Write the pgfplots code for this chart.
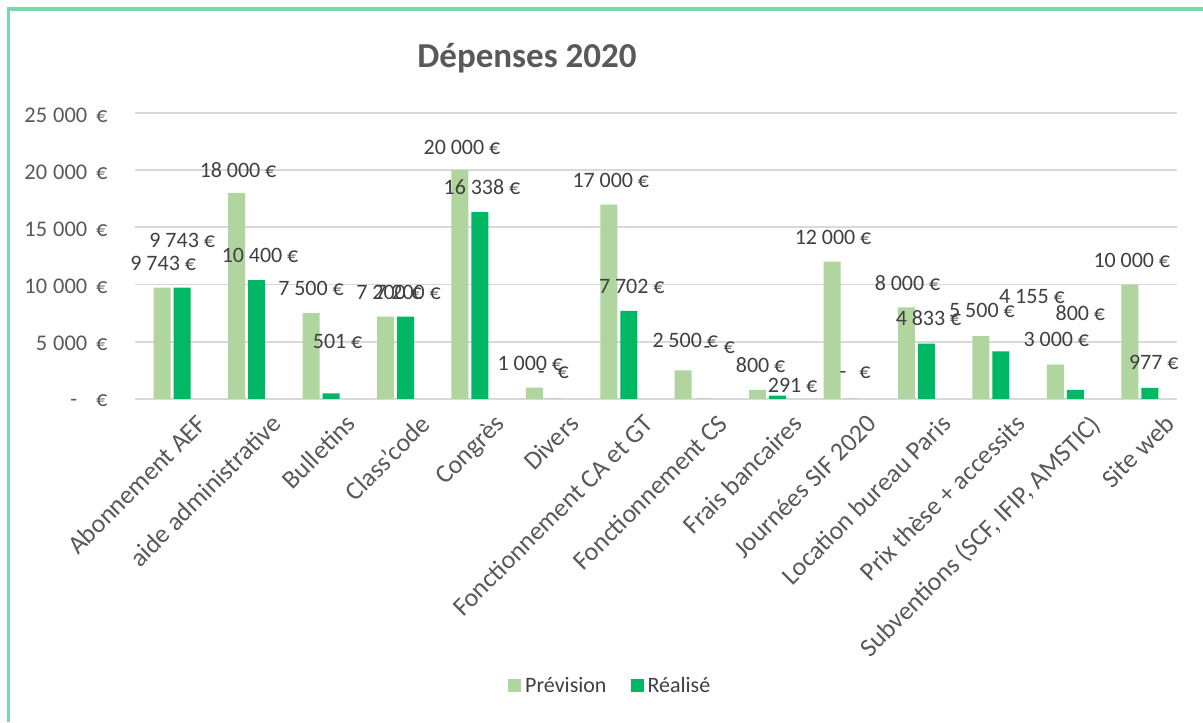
\documentclass[border=0pt]{standalone}
\usepackage{pgfplots}
\pgfplotsset{compat=1.18}
\usepackage{pgfplotstable}
\usepackage{fontspec}
\setmainfont{Carlito}
\definecolor{prev}{HTML}{B1D59F}
\definecolor{real}{HTML}{00B764}
\definecolor{bord}{HTML}{7AD7B0}
\definecolor{txt}{HTML}{404040}
\definecolor{tickc}{HTML}{595959}
\definecolor{gridc}{HTML}{D9D9D9}

\pgfplotstableread{
x P R pdx pdy rdx rdy plab rlab
0 9743 9743 0.5 12.25 0 23.75 9\kern.22em743\kern.22em€ 9\kern.22em743\kern.22em€
1 18000 10400 0.7 11.5 1.7 12.5 18\kern.22em000\kern.22em€ 10\kern.22em400\kern.22em€
2 7500 501 0 12.5 3.25 26 7\kern.22em500\kern.22em€ 501\kern.22em€
3 7200 7200 1.8 12.3 1.3 12.3 7\kern.22em200\kern.22em€ 7\kern.22em200\kern.22em€
4 20000 16338 1 11.5 1 12.5 20\kern.22em000\kern.22em€ 16\kern.22em338\kern.22em€
5 1000 0 -2 12.3 -0.5 13 1\kern.22em000\kern.22em€ -\kern0.6em€
6 17000 7702 1 12 1.5 12 17\kern.22em000\kern.22em€ 7\kern.22em702\kern.22em€
7 2500 0 1 15 8 25.5 2\kern.22em500\kern.22em€ -\kern0.6em€
8 800 291 1.5 12.5 7.5 5 800\kern.22em€ 291\kern.22em€
9 12000 0 0.5 12 1.5 13 12\kern.22em000\kern.22em€ -\kern0.6em€
10 8000 4833 0.5 12.25 1 12.85 8\kern.22em000\kern.22em€ 4\kern.22em833\kern.22em€
11 5500 4155 0.5 13 15.5 27.25 5\kern.22em500\kern.22em€ 4\kern.22em155\kern.22em€
12 3000 800 0.5 12.5 2.5 38.5 3\kern.22em000\kern.22em€ 800\kern.22em€
13 10000 977 1 12.3 2 12.5 10\kern.22em000\kern.22em€ 977\kern.22em€
}\data

\newcommand\lf{\fontsize{11}{13}\selectfont}
\newcommand\yf{\fontsize{11.2}{13}\selectfont}
\newcommand\xf{\fontsize{13}{15}\selectfont}
\newcommand\yl[1]{\hbox{\yf#1\kern.4em€}}

\begin{document}
\begin{tikzpicture}
\useasboundingbox (0,0) rectangle (601.5pt,361pt);
\fill[white] (0,0) rectangle (601.5pt,361pt);
\draw[bord, line width=2.2pt] (3.5pt,356.5pt) -- (601.5pt,356.5pt);
\draw[bord, line width=1.6pt] (4.25pt,0) -- (4.25pt,357.5pt);
\node[font=\fontsize{17.5}{20}\selectfont\bfseries, text=tickc] at (263.5pt,332pt) {Dépenses 2020};
\begin{axis}[
  at={(67.5pt,161.5pt)}, anchor=south west,
  scale only axis, width=521pt, height=143pt,
  xmin=-0.5, xmax=13.5, ymin=0, ymax=25000,
  enlargelimits=false, clip=false,
  ybar, bar width=8.5pt,
  axis line style={draw=none},
  major tick length=0pt,
  scaled y ticks=false,
  ymajorgrids, grid style={gridc, line width=0.9pt},
  ytick={0,5000,10000,15000,20000,25000},
  yticklabels={\hbox{\yf-\kern0.85em€}, \yl{5\kern.27em000}, \yl{10\kern.27em000}, \yl{15\kern.27em000}, \yl{20\kern.27em000}, \yl{25\kern.27em000}},
  yticklabel style={anchor=east, inner sep=0pt, xshift=-13.5pt, yshift=-1pt, font=\yf, text=tickc},
  xtick={0,1,...,13},
  xticklabels={Abonnement AEF, aide administrative, Bulletins, Class'code, Congrès, Divers, Fonctionnement CA et GT, Fonctionnement CS, Frais bancaires, Journées SIF 2020, Location bureau Paris, Prix thèse + accessits, {Subventions (SCF, IFIP, AMSTIC)}, Site web},
  xticklabel style={rotate=45, anchor=north east, inner sep=0pt, xshift=3.5pt, yshift=-13pt, font=\xf, text=tickc},
  legend columns=2,
  legend style={at={(0.457,-1.0035)}, anchor=center, draw=none, fill=none, font=\lf, text=txt,
    /tikz/every even column/.style={column sep=10pt}},
]
\addplot[fill=prev, draw=none, bar shift=-5pt,
  legend image code/.code={\fill[prev] (0pt,-3.25pt) rectangle (6.5pt,3.25pt);},
  visualization depends on={\thisrow{pdx}\as\dx},
  visualization depends on={\thisrow{pdy}\as\dy},
  point meta=explicit symbolic,
  nodes near coords={\pgfplotspointmeta},
  nodes near coords style={anchor=center, inner sep=0pt, font=\lf, text=txt, xshift=\dx pt, yshift=\dy pt},
] table[x=x, y=P, meta=plab] {\data};
\addlegendentry{Prévision}
\addplot[fill=real, draw=none, bar shift=5pt,
  legend image code/.code={\fill[real] (0pt,-3.25pt) rectangle (6.5pt,3.25pt);},
  visualization depends on={\thisrow{rdx}\as\dx},
  visualization depends on={\thisrow{rdy}\as\dy},
  point meta=explicit symbolic,
  nodes near coords={\pgfplotspointmeta},
  nodes near coords style={anchor=center, inner sep=0pt, font=\lf, text=txt, xshift=\dx pt, yshift=\dy pt},
] table[x=x, y=R, meta=rlab] {\data};
\addlegendentry{Réalisé}
\end{axis}
\end{tikzpicture}
\end{document}
